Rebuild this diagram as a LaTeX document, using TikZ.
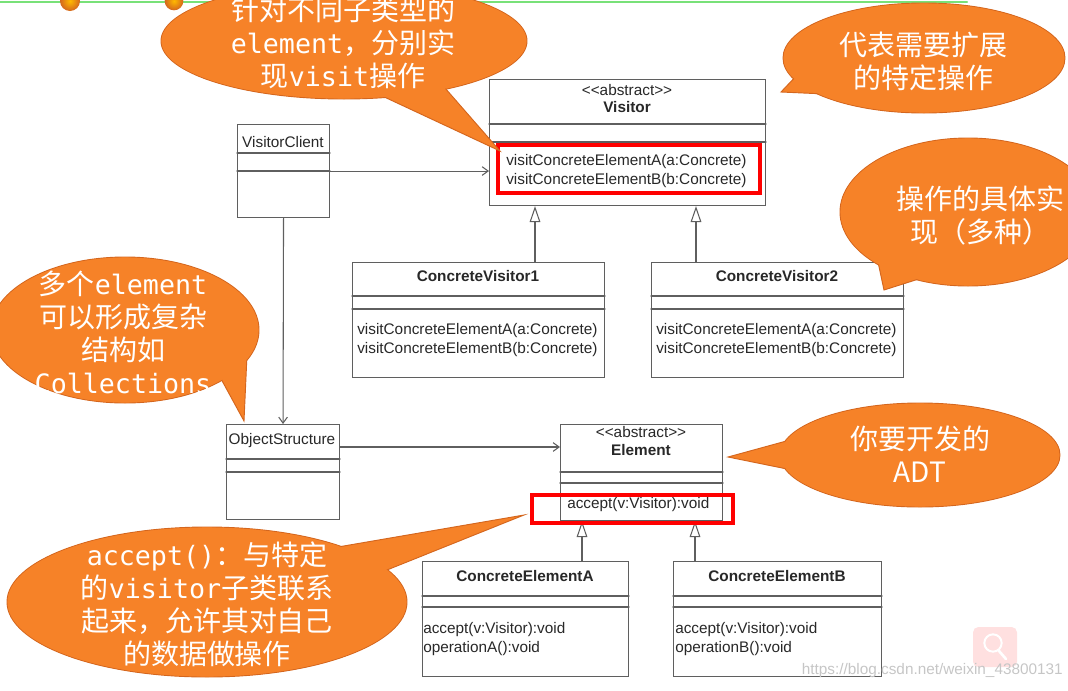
\documentclass[tikz,border=0pt]{standalone}
\usepackage{fontspec}
\setmainfont{Liberation Sans}
\newfontfamily\cjk{Noto Sans CJK SC}
\newfontfamily\cjkmono{DejaVu Sans Mono}
\usetikzlibrary{arrows.meta,calc}

\definecolor{bubbleorange}{RGB}{246,130,40}
\definecolor{bubbleedge}{RGB}{212,102,30}
\definecolor{umlgray}{RGB}{95,95,95}
\definecolor{umltext}{RGB}{40,40,40}
\definecolor{railgreen}{RGB}{120,225,120}

\newcommand\mono[1]{{\cjkmono\fontsize{20}{24.75}\selectfont #1}}
\newcommand\stereo{<\kern0pt<abstract>\kern0pt>}
% speech bubble: centre, x radius, y radius, tail base, tail tip, tail base
\newcommand\speech[6]{%
  \filldraw[bubble] (#1) ellipse [x radius=#2, y radius=#3];
  \filldraw[bubble] (#4) -- (#5) -- (#6) -- cycle;
  \fill[bubbleorange] (#1) ellipse [x radius=#2-.5pt, y radius=#3-.5pt];}

\tikzset{
  umlbox/.style={draw=umlgray,line width=.8pt,fill=white,inner sep=0,anchor=north west},
  umlline/.style={draw=umlgray,line width=.8pt},
  classname/.style={font=\fontsize{11.5}{14}\selectfont\bfseries,text=umltext,inner sep=0},
  plainname/.style={font=\fontsize{11.5}{14}\selectfont,text=umltext,inner sep=0},
  ops/.style={font=\fontsize{11.5}{14.5}\selectfont,text=umltext,align=left,anchor=west,inner sep=0},
  assoc/.style={umlline,-{Straight Barb[length=4.5pt,width=6.5pt]}},
  inherit/.style={umlline,-{Triangle[open,length=12pt,width=8pt]}},
  highlight/.style={draw=red,line width=3pt},
  bubble/.style={fill=bubbleorange,draw=bubbleedge,line width=.7pt},
  bubbletext/.style={text=white,align=center,inner sep=0,font=\cjk\fontsize{21}{24.75}\selectfont},
}

\begin{document}
\begin{tikzpicture}[x=.75pt,y=-.75pt,line cap=round]
  \useasboundingbox (0,0) rectangle (1068,690);
  \clip (0,0) rectangle (1068,690);

  % slide decoration along the top edge
  \draw[railgreen,line width=1.5pt] (0,2) -- (967,2);
  \shade[inner color=orange!55!yellow,outer color=bubbleedge] (70,1) circle [radius=7.5pt];
  \shade[inner color=orange!55!yellow,outer color=bubbleedge] (174,1) circle [radius=7pt];

  % class boxes
  \node[umlbox,minimum width=207pt,minimum height=94.5pt] (visitor) at (489,79) {};
  \node[umlbox,minimum width=69pt,minimum height=69.75pt] (client) at (237,124) {};
  \node[umlbox,minimum width=189pt,minimum height=86.25pt] (cvA) at (352,262) {};
  \node[umlbox,minimum width=189pt,minimum height=86.25pt] (cvB) at (651,262) {};
  \node[umlbox,minimum width=84.75pt,minimum height=71.25pt] (objs) at (226,424) {};
  \node[umlbox,minimum width=121.5pt,minimum height=72pt] (elem) at (560,424) {};
  \node[umlbox,minimum width=154.5pt,minimum height=86.25pt] (ceA) at (422,561) {};
  \node[umlbox,minimum width=156pt,minimum height=86.25pt] (ceB) at (673,561) {};
  \foreach \n/\a/\b in {visitor/45/63,client/29/47,cvA/34/47,cvB/34/47,
      objs/35/48,elem/48/59,ceA/35/46,ceB/35/46} {
    \draw[umlline] ($(\n.north west)+(0,\a)$) -- ($(\n.north east)+(0,\a)$);
    \draw[umlline] ($(\n.north west)+(0,\b)$) -- ($(\n.north east)+(0,\b)$);
  }

  % class texts
  \node[plainname] (visitorS) at (627,90) {\stereo};
  \node[classname] (visitorN) at (627,107) {Visitor};
  \node[ops] (visitorM) at (506,171) {visitConcreteElementA(a:Concrete)\\visitConcreteElementB(b:Concrete)};
  \node[plainname] (clientN) at (283,142) {VisitorClient};
  \node[classname] (cvAN) at (478,276) {ConcreteVisitor1};
  \node[ops] (cvAM) at (357,340) {visitConcreteElementA(a:Concrete)\\visitConcreteElementB(b:Concrete)};
  \node[classname] (cvBN) at (777,276) {ConcreteVisitor2};
  \node[ops] (cvBM) at (656,340) {visitConcreteElementA(a:Concrete)\\visitConcreteElementB(b:Concrete)};
  \node[plainname] (objsN) at (282,441) {ObjectStructure};
  \node[plainname] (elemS) at (641,432) {\stereo};
  \node[classname] (elemN) at (641,450) {Element};
  \node[ops] (elemM) at (567,505) {accept(v:Visitor):void};
  \node[classname] (ceAN) at (525,576) {ConcreteElementA};
  \node[ops] (ceAM) at (423,639) {accept(v:Visitor):void\\operationA():void};
  \node[classname] (ceBN) at (777,576) {ConcreteElementB};
  \node[ops] (ceBM) at (675,639) {accept(v:Visitor):void\\operationB():void};

  % associations and generalisations
  \draw[assoc] (client.east) -- (client.east -| visitor.west);
  \draw[assoc] (client.south) -- (objs.north);
  \draw[assoc] ($(objs.north east)+(0,23)$) coordinate (oa) -- (oa -| elem.west);
  \coordinate (v1) at (535,0);
  \coordinate (v2) at (696,0);
  \coordinate (e1) at (582,0);
  \coordinate (e2) at (695,0);
  \draw[inherit] (v1 |- cvA.north) -- (v1 |- visitor.south);
  \draw[inherit] (v2 |- cvB.north) -- (v2 |- visitor.south);
  \draw[inherit] (e1 |- ceA.north) -- (e1 |- elem.south);
  \draw[inherit] (e2 |- ceB.north) -- (e2 |- elem.south);

  % red marks round the operations
  \draw[highlight] (498,145) rectangle (760,193);
  \draw[highlight] (532,495) rectangle (733,523);

  % speech bubbles
  \speech{344,41}{137.25pt}{43.5pt}{380,95}{500,151}{445,88}
  \node[bubbletext] (tipVisit) at (343,43) {针对不同子类型的\\\mono{element}，分别实\\现\mono{visit}操作};
  \speech{924,58}{105.75pt}{41.25pt}{800,72}{781,92}{825,94}
  \node[bubbletext] (tipExtend) at (923,61) {代表需要扩展\\的特定操作};
  \speech{968,212}{96pt}{55.5pt}{878,262}{884,290}{925,277}
  \node[bubbletext] (tipImpl) at (980,215) {操作的具体实\\现（多种）};
  \speech{125,330}{100.5pt}{54.75pt}{220,377}{244,421}{247,355}
  \node[bubbletext] (tipColl) at (123,332) {多个\mono{element}\\可以形成复杂\\结构如\\\mono{Collections}};
  \speech{207,602}{150pt}{56.25pt}{332,548}{524,515}{382,572}
  \node[bubbletext] (tipAccept) at (207,604) {\mono{accept()}：与特定\\的\mono{visitor}子类联系\\起来，允许其对自己\\的数据做操作};
  \speech{920,455}{105pt}{39pt}{790,440}{728,457}{792,470}
  \node[bubbletext] (tipADT) at (920,454) {你要开发的\\ADT};

  % watermark
  \fill[red!12,rounded corners=4pt] (973,627) rectangle (1017,667);
  \draw[white,line width=1.5pt] (993,643) circle [radius=6.5pt];
  \draw[white,line width=2pt] (999,651) -- (1006,659);
  \node[font=\fontsize{11.5}{14}\selectfont,text=gray!45,anchor=east,inner sep=0] (mark) at (1063,671) {https://blog.csdn.net/weixin\_43800131};
\end{tikzpicture}
\end{document}
